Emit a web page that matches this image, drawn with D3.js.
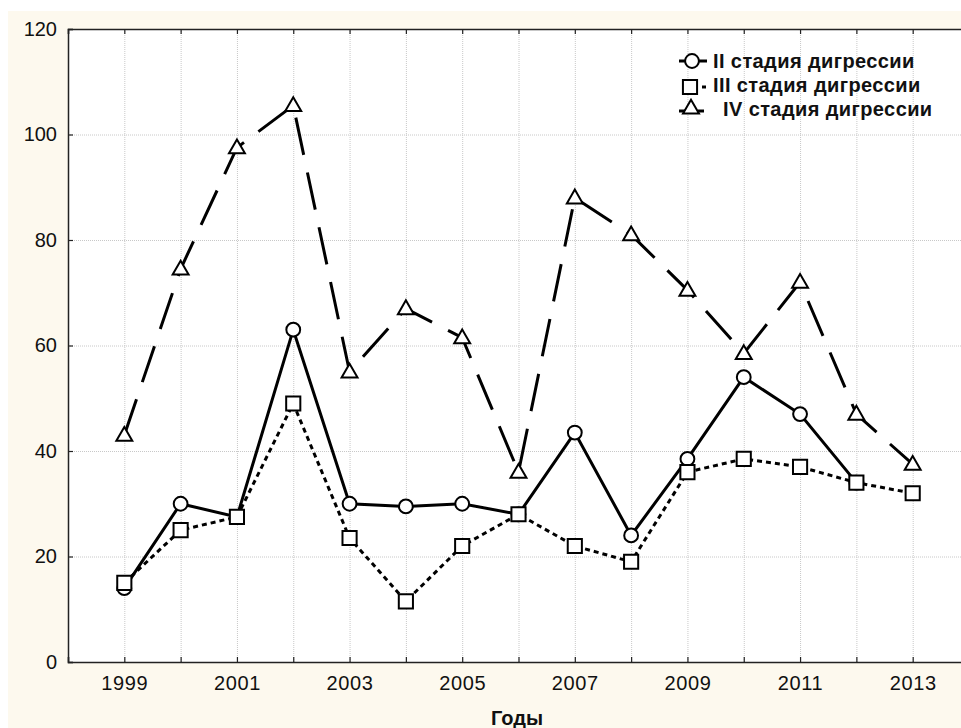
<!DOCTYPE html>
<html>
<head>
<meta charset="utf-8">
<script src="https://cdn.jsdelivr.net/npm/d3@7"></script>
<style>
  html, body { margin: 0; padding: 0; background: #ffffff; }
  svg { display: block; }
  text { font-family: "Liberation Sans", Arial, sans-serif; fill: #111; }
</style>
</head>
<body>
<svg id="chart" width="961" height="728"></svg>
<script>
// Years of observation
const years = [1999, 2000, 2001, 2002, 2003, 2004, 2005, 2006, 2007, 2008, 2009, 2010, 2011, 2012, 2013];

// Values per digression stage
const stage2 = [14, 30, 27.5, 63, 30, 29.5, 30, 28, 43.5, 24, 38.5, 54, 47, 34, null];
const stage3 = [15, 25, 27.5, 49, 23.5, 11.5, 22, 28, 22, 19, 36, 38.5, 37, 34, 32];
const stage4 = [43, 74.5, 97.5, 105.5, 55, 67, 61.5, 36, 88, 81, 70.5, 58.5, 72, 47, 37.5];

const seriesNames = ["II стадия дигрессии", "III стадия дигрессии", "IV стадия дигрессии"];
const yTicks = [0, 20, 40, 60, 80, 100, 120];
const xTickYears = d3.range(1998, 2015);

const svg = d3.select("#chart");
const plotLeft = 68, plotTop = 29, plotBottom = 662, plotRight = 969;

const x = d3.scaleLinear().domain([1998, 2014]).range([plotLeft, plotRight]);
const y = d3.scaleLinear().domain([0, 120]).range([plotBottom, plotTop]);

// Cream backdrop and white plotting area
svg.append("rect").attr("x", 8).attr("y", 11).attr("width", 961).attr("height", 728).attr("fill", "#fdf9ee");
svg.append("rect").attr("x", plotLeft).attr("y", plotTop)
  .attr("width", plotRight - plotLeft).attr("height", plotBottom - plotTop).attr("fill", "#ffffff");

// Dotted grid
const grid = svg.append("g").attr("stroke", "#c8c8c8").attr("stroke-width", 1).attr("stroke-dasharray", "1,1");
grid.selectAll(".gx").data(xTickYears.slice(1)).join("line")
  .attr("x1", d => x(d) + 0.5).attr("x2", d => x(d) + 0.5)
  .attr("y1", plotTop).attr("y2", plotBottom);
grid.selectAll(".gy").data(yTicks.slice(1, -1)).join("line")
  .attr("x1", plotLeft).attr("x2", plotRight)
  .attr("y1", d => y(d) + 0.5).attr("y2", d => y(d) + 0.5);

// Axes with inward ticks
const xAxis = d3.axisBottom(x).tickValues(xTickYears).tickSize(-5).tickPadding(14)
  .tickFormat(d => (d % 2 === 1 ? String(d) : ""));
const gx = svg.append("g").attr("transform", `translate(0,${plotBottom})`).call(xAxis);
gx.selectAll("text").attr("font-size", 20).attr("letter-spacing", "0.6px");

const topAxis = d3.axisTop(x).tickValues(xTickYears).tickSize(-5).tickFormat("");
svg.append("g").attr("transform", `translate(0,${plotTop})`).call(topAxis);

const yAxis = d3.axisLeft(y).tickValues(yTicks).tickSize(-5).tickPadding(11);
const gy = svg.append("g").attr("transform", `translate(${plotLeft},0)`).call(yAxis);
gy.selectAll("text").attr("font-size", 20);

svg.selectAll(".domain").attr("stroke", "#222").attr("stroke-width", 1.5);
svg.selectAll(".tick line").attr("stroke", "#222").attr("stroke-width", 1.2);
svg.selectAll(".tick text").attr("fill", "#111").attr("font-family", "Liberation Sans, Arial, sans-serif");

// Axis title
svg.append("text").attr("x", 517).attr("y", 725).attr("text-anchor", "middle")
  .attr("font-size", 20).attr("font-weight", "bold").text("Годы");

// Lines and markers
const line = d3.line().defined(d => d.v != null).x(d => x(d.year)).y(d => y(d.v));
const toPts = arr => years.map((yr, i) => ({ year: yr, v: arr[i] }));

const symCircle = d3.symbol().type(d3.symbolCircle).size(150);
const symSquare = d3.symbol().type(d3.symbolSquare).size(200);
const symTriangle = d3.symbol().type(d3.symbolTriangle).size(110);

const series = [
  { pts: toPts(stage2), dash: null, sym: symCircle, dy: 0 },
  { pts: toPts(stage3), dash: "5,4", sym: symSquare, dy: 0 },
  { pts: toPts(stage4), dash: "38,18", sym: symTriangle, dy: 1 }
];

series.forEach(s => {
  svg.append("path").datum(s.pts).attr("d", line)
    .attr("fill", "none").attr("stroke", "#000").attr("stroke-width", 3)
    .attr("stroke-dasharray", s.dash);
});
series.forEach(s => {
  svg.append("g").selectAll("path").data(s.pts.filter(d => d.v != null)).join("path")
    .attr("d", s.sym)
    .attr("transform", d => `translate(${x(d.year)},${y(d.v) + s.dy})`)
    .attr("fill", "#fff").attr("stroke", "#000").attr("stroke-width", 2);
});

// Legend
const legend = svg.append("g");
const rowsY = [61, 85, 109];
// row 1: solid line with circle
legend.append("line").attr("x1", 679).attr("x2", 707).attr("y1", rowsY[0]).attr("y2", rowsY[0])
  .attr("stroke", "#000").attr("stroke-width", 3);
legend.append("path").attr("d", symCircle()).attr("transform", `translate(692,${rowsY[0]})`)
  .attr("fill", "#fff").attr("stroke", "#000").attr("stroke-width", 2);
// row 2: square with a dot
legend.append("path").attr("d", symSquare()).attr("transform", `translate(690,${rowsY[1] + 2})`)
  .attr("fill", "#fff").attr("stroke", "#000").attr("stroke-width", 2);
legend.append("line").attr("x1", 702).attr("x2", 706).attr("y1", rowsY[1] + 2).attr("y2", rowsY[1] + 2)
  .attr("stroke", "#000").attr("stroke-width", 3);
// row 3: triangle with dash fragments
legend.append("line").attr("x1", 679).attr("x2", 685).attr("y1", rowsY[2] + 2).attr("y2", rowsY[2] + 2)
  .attr("stroke", "#000").attr("stroke-width", 3);
legend.append("line").attr("x1", 698).attr("x2", 704).attr("y1", rowsY[2] + 2).attr("y2", rowsY[2] + 2)
  .attr("stroke", "#000").attr("stroke-width", 3);
legend.append("path").attr("d", symTriangle()).attr("transform", `translate(691,${rowsY[2]})`)
  .attr("fill", "#fff").attr("stroke", "#000").attr("stroke-width", 2);

const textX = [713, 713, 723];
legend.selectAll("text").data(seriesNames).join("text")
  .attr("x", (d, i) => textX[i]).attr("y", (d, i) => rowsY[i]).attr("dy", "0.36em")
  .attr("font-size", 20).attr("font-weight", "bold").attr("letter-spacing", "0.4px").text(d => d);
</script>
</body>
</html>
